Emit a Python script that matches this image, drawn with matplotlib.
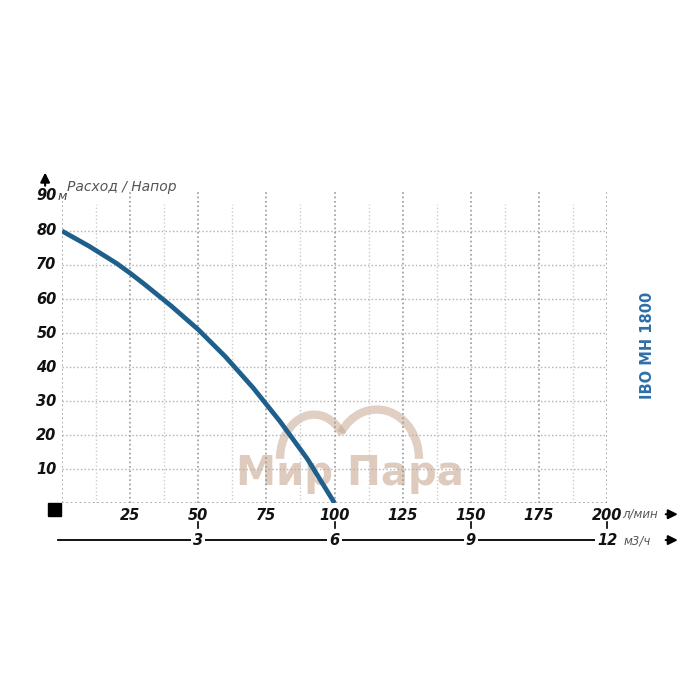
import matplotlib
matplotlib.use('Agg')
import matplotlib.pyplot as plt
from matplotlib.patches import Arc, Rectangle
import numpy as np

# pump curve IBO MH 1800: flow (l/min) vs head (m)
flow = [0, 10, 20, 25, 30, 40, 50, 60, 70, 80, 90, 100]
head = [80, 75.5, 70.5, 67.6, 64.5, 58, 51, 43, 34, 24, 13, 0]

x_ticks = [25, 50, 75, 100, 125, 150, 175, 200]
y_ticks = [10, 20, 30, 40, 50, 60, 70, 80]
m3_ticks = [3, 6, 9, 12]   # m3/h, = l/min * 0.06

grid_col = '#b0b0b0'
curve_col = '#1e5f8c'
label_font = dict(fontsize=10.5, fontweight='bold', fontstyle='italic', color='#111111')

fig = plt.figure(figsize=(7, 7), dpi=100)
ax = fig.add_axes([0.0886, 0.2814, 0.7786, 0.4469])
ax.set_xlim(0, 200)
ax.set_ylim(0, 92)
ax.axis('off')

# grid
for y in y_ticks:
    ax.plot([0, 200], [y, y], ls=':', color=grid_col, lw=1)
ax.plot([0, 200], [0, 0], ls=':', color='#999999', lw=1.2)
ax.plot([0, 0], [0, 89], ls=':', color='#999999', lw=1.2)
for x in x_ticks:
    ax.plot([x, x], [0, 92], ls=':', color='#999999', lw=1.2)
for x in np.arange(12.5, 200, 25):
    ax.plot([x, x], [0, 88], ls=':', color='#cccccc', lw=1)

# watermark
wm = '#c9a993'
ax.add_patch(Arc((92.5, 13), 25, 26, theta1=35, theta2=180, color=wm, lw=6, alpha=0.55, zorder=1))
ax.add_patch(Arc((115.5, 13), 31, 29, theta1=0, theta2=150, color=wm, lw=6, alpha=0.55, zorder=1))
ax.text(105.5, 8.5, 'Мир Пара', ha='center', va='center', fontsize=29, fontweight='bold',
        color=wm, alpha=0.6, zorder=1)

# curve
ax.plot(flow, head, color=curve_col, lw=3.4, solid_capstyle='butt', zorder=3)

# y labels
for y in y_ticks:
    ax.text(-2, y, str(y), ha='right', va='center', **label_font)
ax.text(-2, 90.5, '90', ha='right', va='center', **label_font)
ax.text(-1.8, 90.2, 'м', ha='left', va='center', fontsize=9, fontstyle='italic', color='#444444')
ax.annotate('', xy=(-6.2, 98), xytext=(-6.2, 92.5),
            arrowprops=dict(arrowstyle='-|>', color='black', lw=1.5, mutation_scale=14),
            annotation_clip=False)
ax.text(2, 92.8, 'Расход / Напор', ha='left', va='center', fontsize=10,
        fontstyle='italic', color='#555555')

# x labels (l/min)
ax.add_patch(Rectangle((-5.2, -3.8), 5.0, 3.7, color='black', clip_on=False))
for x in x_ticks:
    ax.text(x, -3.6, str(x), ha='center', va='center', **label_font)
ax.text(205.5, -3.3, 'л/мин', ha='left', va='center', fontsize=8.5, fontstyle='italic', color='#555555')
ax.annotate('', xy=(227, -3.3), xytext=(220.5, -3.3),
            arrowprops=dict(arrowstyle='-|>', color='black', lw=1.5, mutation_scale=14),
            annotation_clip=False)

# second axis (m3/h)
for m in m3_ticks:
    x = m / 0.06
    ax.plot([x, x], [-5.6, -7.3], color='black', lw=1.2, clip_on=False)
ax.plot([-1.5, 196], [-10.9, -10.9], color='black', lw=1.3, clip_on=False)
for m in m3_ticks:
    ax.text(m / 0.06, -10.9, str(m), ha='center', va='center',
            bbox=dict(facecolor='white', edgecolor='none', pad=1.5), **label_font)
ax.text(206, -11.2, 'м3/ч', ha='left', va='center', fontsize=8.5, fontstyle='italic', color='#555555')
ax.annotate('', xy=(227, -10.9), xytext=(220.5, -10.9),
            arrowprops=dict(arrowstyle='-|>', color='black', lw=1.5, mutation_scale=14),
            annotation_clip=False)

# model name
ax.text(215, 46.5, 'IBO MH 1800', rotation=90, ha='center', va='center',
        fontsize=10.5, fontweight='bold', color='#2e6fa8')

fig.savefig('out.png', dpi=100, facecolor='white')
